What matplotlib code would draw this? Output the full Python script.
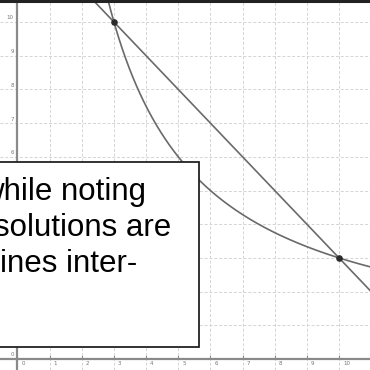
import numpy as np
import matplotlib
matplotlib.use("Agg")
import matplotlib.pyplot as plt
from matplotlib.patches import Rectangle
from matplotlib.lines import Line2D

# curves: hyperbola x*y = 30 and line x + y = 13
xy_product = 30
line_sum = 13
points_x = [3, 10]
points_y = [10, 3]
x_ticks = list(range(0, 11))
y_ticks = list(range(0, 11))
box_lines = ["while noting", "solutions are", "lines inter-"]

W = H = 370


def px(col, row):
    # pixel position -> figure fraction
    return col / W, (H - row) / H


fig = plt.figure(figsize=(3.7, 3.7), dpi=100)
ax = fig.add_axes([0, 0, 1, 1])
ax.set_xlim(-0.544, 10.964)
ax.set_ylim(-0.326, 10.653)
ax.axis("off")

# grid
for v in x_ticks[1:]:
    ax.axvline(v, color="#d4d4d4", lw=0.7, ls=(0, (3, 2)), zorder=1)
for v in y_ticks[1:]:
    ax.axhline(v, color="#d4d4d4", lw=0.7, ls=(0, (3, 2)), zorder=1)

# axes
ax.axvline(0, color="#8a8a8a", lw=1.6, zorder=2)
ax.axhline(0, color="#8a8a8a", lw=1.6, zorder=2)
for v in x_ticks:
    ax.plot([v, v], [0, 0.08], color="#8a8a8a", lw=0.8, zorder=2)
    ax.text(v + 0.12, -0.14, str(v), fontsize=4, color="#777777",
            ha="left", va="center", zorder=2)
for v in y_ticks:
    ax.plot([0, -0.06], [v, v], color="#8a8a8a", lw=0.8, zorder=2)
    ax.text(-0.12, v + 0.12, str(v), fontsize=4, color="#777777",
            ha="right", va="center", zorder=2)

# curves
xs = np.linspace(2.5, 11.5, 400)
ax.plot(xs, xy_product / xs, color="#6a6a6a", lw=1.2, zorder=3)
xl = np.linspace(1.5, 11.5, 50)
ax.plot(xl, line_sum - xl, color="#6a6a6a", lw=1.2, zorder=3)
ax.scatter(points_x, points_y, s=14, color="#2a2a2a", zorder=4)

# top border
fig.add_artist(Line2D([0, 1], [1 - 1.2 / H, 1 - 1.2 / H],
                      color="#222222", lw=2.2, transform=fig.transFigure))

# text box overlay
x0, y0 = px(-3, 347)
x1, y1 = px(199, 162)
fig.add_artist(Rectangle((x0, y0), x1 - x0, y1 - y0, transform=fig.transFigure,
                         facecolor="white", edgecolor="#222222", lw=1.3,
                         zorder=10))
ends = [146, 171, 137]
bases = [200, 236, 272]
for txt, e, b in zip(box_lines, ends, bases):
    fx, fy = px(e, b)
    fig.text(fx, fy, txt, fontsize=22.5, family="Liberation Sans",
             color="black", ha="right", va="baseline", zorder=11)

fig.savefig("out.png", dpi=100)
